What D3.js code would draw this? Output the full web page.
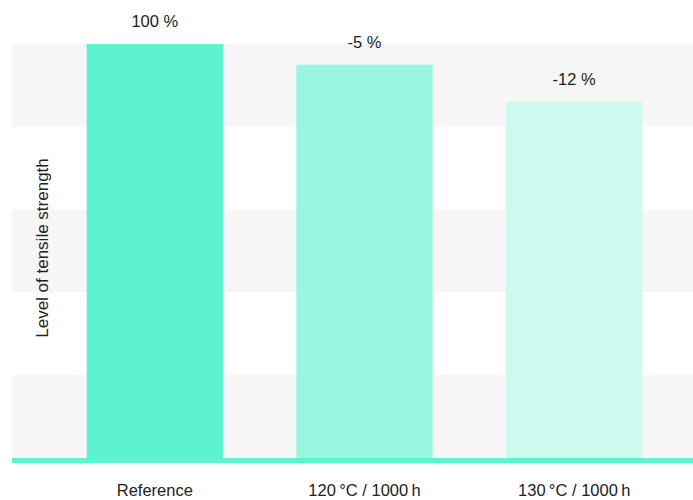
<!DOCTYPE html>
<html><head><meta charset="utf-8">
<script src="https://cdn.jsdelivr.net/npm/d3@7"></script>
<style>body{margin:0;background:#fff}svg{display:block}text{font-family:"Liberation Sans",Arial,sans-serif;fill:#222}</style>
</head><body>
<svg id="c" width="693" height="500"></svg>
<script>
const categories = ["Reference", "120\u2009°C / 1000\u2009h", "130\u2009°C / 1000\u2009h"];
const values = [100, 95, 86];
const valueLabels = ["100 %", "-5 %", "-12 %"];
const barColors = ["#5df3d0", "#9bf6e1", "#ccfaef"];
const yTicks = [0, 20, 40, 60, 80, 100];

const svg = d3.select("#c");
const mLeft = 12, mRight = 693, mTop = 44, mBottom = 458;
const x = d3.scaleBand().domain(categories).range([50, 679]).paddingInner(0.35).paddingOuter(0.175);
const y = d3.scaleLinear().domain([0, 100]).range([mBottom, mTop]);

// alternating bands
const bands = d3.pairs(yTicks).filter((d, i) => i % 2 === 0);
svg.append("g").selectAll("rect").data(bands).join("rect")
  .attr("x", mLeft).attr("width", mRight - mLeft)
  .attr("y", d => y(d[1])).attr("height", d => y(d[0]) - y(d[1]))
  .attr("fill", "#f6f6f6");

// bars
svg.append("g").selectAll("rect").data(values).join("rect")
  .attr("x", (d, i) => x(categories[i])).attr("width", x.bandwidth())
  .attr("y", d => y(d)).attr("height", d => y(0) - y(d) + 2)
  .attr("fill", (d, i) => barColors[i]);

// baseline
svg.append("rect").attr("x", mLeft).attr("width", mRight - mLeft)
  .attr("y", y(0)).attr("height", 5).attr("fill", "#5df3d0");

// value labels
svg.append("g").selectAll("text").data(values).join("text")
  .attr("x", (d, i) => x(categories[i]) + x.bandwidth() / 2)
  .attr("y", d => y(d) - 17)
  .attr("text-anchor", "middle").attr("font-size", 16.5)
  .text((d, i) => valueLabels[i]);

// x axis labels
const xAxis = d3.axisBottom(x).tickSize(0).tickPadding(0);
const gx = svg.append("g").attr("transform", `translate(0,${mBottom})`).call(xAxis);
gx.select(".domain").remove();
gx.selectAll("text").attr("font-size", 16.5).attr("fill", "#222")
  .attr("dy", null).attr("y", 38)
  .style("font-family", '"Liberation Sans",Arial,sans-serif');

// y title
svg.append("text").attr("transform", `translate(48,${(mTop + mBottom) / 2 - 3}) rotate(-90)`)
  .attr("text-anchor", "middle").attr("font-size", 17)
  .text("Level of tensile strength");
</script>
</body></html>
